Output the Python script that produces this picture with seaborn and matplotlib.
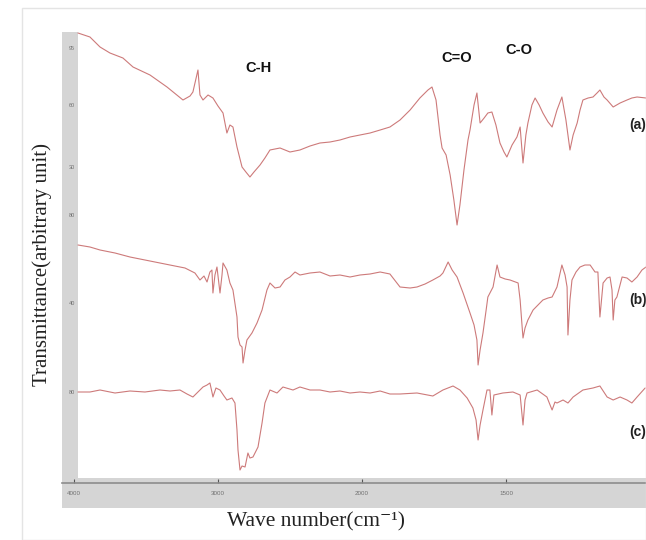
import numpy as np
import pandas as pd
import matplotlib
matplotlib.use("Agg")
import matplotlib.pyplot as plt
from matplotlib.patches import Rectangle
import seaborn as sns

# ---------------- data ----------------
wn_a = [3972, 3889, 3819, 3750, 3660, 3590, 3472, 3354, 3243, 3194, 3174, 3139, 3125, 3104, 3069, 3035,
        3000, 2965, 2938, 2917, 2896, 2868, 2833, 2806, 2778, 2750, 2708, 2674, 2639, 2569, 2500, 2431,
        2361, 2292, 2222, 2153, 2083, 2014, 1972, 1937, 1903, 1868, 1833, 1799, 1771, 1757, 1743, 1729,
        1722, 1708, 1694, 1681, 1670, 1660, 1646, 1632, 1625, 1611, 1601, 1590, 1576, 1563, 1549, 1535,
        1521, 1507, 1497, 1479, 1462, 1451, 1441, 1431, 1424, 1410, 1399, 1385, 1372, 1354, 1340, 1323,
        1306, 1292, 1278, 1267, 1253, 1243, 1233, 1215, 1198, 1184, 1174, 1160, 1149, 1128, 1104, 1080,
        1063, 1045, 1014]
tr_a = [450, 446, 436, 430, 425, 416, 408, 396, 383, 387, 391, 413, 388, 383, 388, 385,
        377, 370, 350, 358, 356, 336, 316, 311, 306, 311, 318, 325, 333, 335, 331, 333,
        337, 340, 341, 343, 346, 348, 350, 353, 356, 363, 373, 385, 393, 396, 383, 348,
        335, 328, 308, 283, 258, 278, 313, 343, 353, 378, 390, 360, 365, 370, 371, 358,
        340, 331, 326, 338, 346, 356, 320, 348, 360, 378, 385, 378, 370, 361, 356, 373,
        386, 363, 333, 348, 360, 373, 383, 385, 386, 390, 393, 386, 383, 376, 380, 383,
        385, 386, 385]

wn_b = [3972, 3889, 3819, 3715, 3611, 3507, 3403, 3299, 3229, 3160, 3125, 3097, 3076, 3056, 3042, 3035,
        3021, 3007, 2986, 2972, 2965, 2938, 2917, 2896, 2868, 2861, 2847, 2833, 2826, 2812, 2799, 2764,
        2729, 2694, 2660, 2639, 2604, 2569, 2535, 2500, 2465, 2431, 2361, 2292, 2222, 2153, 2083, 2014,
        1972, 1937, 1903, 1868, 1833, 1809, 1781, 1754, 1729, 1719, 1701, 1687, 1670, 1649, 1625, 1611,
        1601, 1597, 1590, 1580, 1569, 1563, 1545, 1531, 1521, 1503, 1486, 1458, 1451, 1444, 1441, 1434,
        1424, 1406, 1389, 1372, 1354, 1340, 1323, 1306, 1295, 1288, 1285, 1278, 1271, 1257, 1243, 1226,
        1208, 1191, 1181, 1174, 1163, 1149, 1139, 1132, 1128, 1122, 1115, 1097, 1080, 1063, 1045, 1028,
        1014]
tr_b = [238, 236, 233, 230, 226, 223, 220, 217, 215, 210, 203, 207, 201, 211, 213, 190,
        208, 216, 190, 208, 220, 213, 200, 193, 166, 146, 138, 136, 120, 133, 143, 150,
        160, 173, 193, 200, 195, 196, 203, 206, 211, 208, 210, 211, 207, 208, 206, 208,
        209, 211, 209, 196, 195, 196, 199, 203, 207, 210, 221, 213, 206, 190, 170, 158,
        143, 118, 133, 150, 173, 186, 196, 218, 206, 204, 203, 200, 183, 156, 145, 155,
        163, 173, 178, 183, 185, 186, 196, 218, 208, 196, 148, 183, 203, 211, 216, 218,
        218, 211, 211, 166, 200, 205, 206, 193, 163, 183, 186, 206, 205, 201, 206, 213,
        216]

wn_c = [3972, 3889, 3819, 3715, 3611, 3507, 3403, 3333, 3264, 3215, 3174, 3139, 3104, 3076, 3056, 3042,
        3035, 3014, 2986, 2958, 2938, 2903, 2882, 2868, 2861, 2847, 2833, 2812, 2792, 2778, 2757, 2722,
        2694, 2674, 2639, 2590, 2549, 2479, 2431, 2361, 2292, 2222, 2153, 2083, 2014, 1972, 1937, 1903,
        1868, 1809, 1754, 1719, 1684, 1660, 1635, 1615, 1604, 1597, 1590, 1580, 1566, 1556, 1549, 1542,
        1511, 1476, 1451, 1441, 1434, 1427, 1392, 1358, 1347, 1340, 1330, 1323, 1302, 1285, 1267, 1233,
        1198, 1174, 1149, 1128, 1104, 1080, 1063, 1045, 1017]
tr_c = [91, 91, 93, 90, 92, 91, 93, 92, 93, 89, 86, 91, 96, 98, 100, 91,
        86, 95, 93, 87, 83, 85, 80, 53, 33, 13, 17, 16, 30, 25, 26, 36,
        60, 80, 93, 90, 96, 93, 96, 93, 93, 91, 92, 90, 91, 90, 92, 89,
        89, 90, 87, 93, 97, 93, 85, 75, 63, 43, 58, 73, 93, 93, 68, 88,
        90, 91, 88, 58, 83, 90, 93, 86, 78, 73, 81, 80, 83, 80, 86, 93,
        95, 97, 86, 83, 86, 83, 80, 86, 95]

sample_names = ["(a)", "(b)", "(c)"]
x_ticks = [4000, 3000, 2000, 1500]
x_tick_labels = ["4000", "3000", "2000", "1500"]
y_ticks = [435, 378, 316, 268, 180, 91]
y_tick_labels = ["95", "60", "30", "80", "40", "80"]
band_labels = ["C-H", "C=O", "C-O"]
band_pos = [2722, 1670, 1455]
band_y = [415, 425, 433]

# ---------------- build dataframe ----------------
frames = []
for name, w, t in zip(sample_names, [wn_a, wn_b, wn_c], [tr_a, tr_b, tr_c]):
    frames.append(pd.DataFrame({"wavenumber": w, "transmittance": t, "sample": name}))
df = pd.concat(frames, ignore_index=True)

sns.set_style("white")
plt.rcParams["font.family"] = ["Liberation Sans", "DejaVu Sans"]

W, H = 646, 540
fig = plt.figure(figsize=(W / 100, H / 100), dpi=100)

# faint frame of the screenshot
fig.patches.append(Rectangle((22 / W, 0), 1 - 22 / W, 1 - 8 / H, transform=fig.transFigure,
                             fill=False, edgecolor="#e4e4e4", linewidth=1.0))

ax = fig.add_axes([62 / W, (H - 508) / H, (W - 62) / W, (508 - 20) / H])

# piecewise (Shimadzu-like) wavenumber scale, increasing with wavenumber
bp_wn = np.array([500, 1000, 1500, 2000, 3000, 4000, 4500], dtype=float)
bp_pos = np.array([0, 1, 2, 3, 4, 5, 5.5], dtype=float)

def fwd(w):
    return np.interp(np.asarray(w, dtype=float), bp_wn, bp_pos)

def inv(p):
    return np.interp(np.asarray(p, dtype=float), bp_pos, bp_wn)

line_color = "#cd7a7a"
sns.lineplot(data=df, x="wavenumber", y="transmittance", hue="sample",
             palette={n: line_color for n in sample_names}, estimator=None, sort=False,
             legend=False, linewidth=0.8, ax=ax)

ax.set_xscale("function", functions=(fwd, inv))
ax.set_xlim(4083, 1014)
ax.set_ylim(-25, 463)

# grey bands of the original software frame
ax.add_patch(Rectangle((3972, -25), 4083 - 3972, 451 + 25, facecolor="#d5d5d5", edgecolor="none", zorder=0))
ax.add_patch(Rectangle((1014, -25), 4083 - 1014, 30, facecolor="#d5d5d5", edgecolor="none", zorder=0))

for s in ["top", "right"]:
    ax.spines[s].set_visible(False)
ax.spines["bottom"].set_position(("data", 0))
ax.spines["bottom"].set_color("#8c8c8c")
ax.spines["bottom"].set_linewidth(1.2)
ax.spines["left"].set_position(("data", 3972))
ax.spines["left"].set_visible(False)

ax.set_xticks(x_ticks)
ax.set_xticklabels(x_tick_labels)
ax.tick_params(axis="x", direction="in", length=3, width=0.8, color="#555555",
               labelsize=4.5, labelcolor="#707070", pad=6, bottom=True)
ax.set_yticks(y_ticks)
ax.set_yticklabels(y_tick_labels)
ax.tick_params(axis="y", length=0, labelsize=4, labelcolor="#707070", pad=2, left=True)
ax.minorticks_off()
ax.set_xlabel("")
ax.set_ylabel("")

# band annotations
for lab, xp, yp in zip(band_labels, band_pos, band_y):
    ax.text(xp, yp, lab, ha="center", va="center", fontsize=10.5, fontweight="bold", color="#111111")

# sample labels (clipped by the figure edge as in the original)
label_y = [358, 183, 51]
for name, yp in zip(sample_names, label_y):
    ax.text(1072, yp, name, ha="left", va="center", fontsize=10, fontweight="bold",
            color="#222222", clip_on=False)

serif = ["Liberation Serif", "DejaVu Serif"]
fig.text(42 / W, 1 - 265 / H, "Transmittance(arbitrary unit)", rotation=90, ha="center", va="center",
         fontsize=15, family=serif, color="#222222")
fig.text(316 / W, 1 - 522 / H, "Wave number(cm\u207b\u00b9)", ha="center", va="center",
         fontsize=15.5, family=serif, color="#222222")

fig.savefig("out.png", dpi=100)
